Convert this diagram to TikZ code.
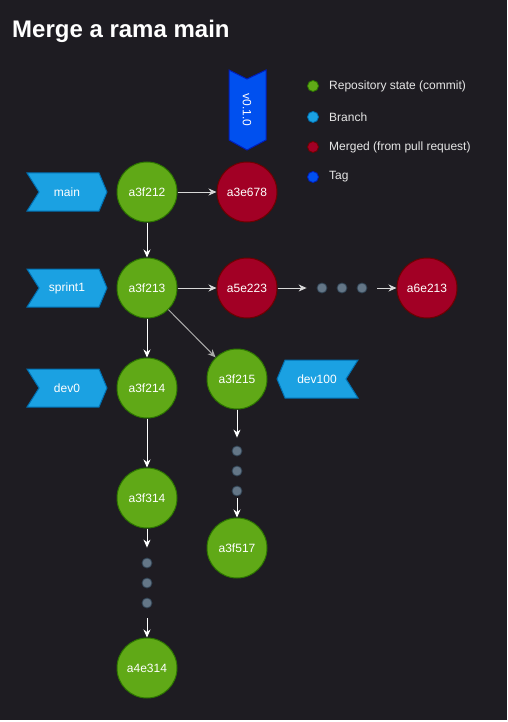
\documentclass[tikz,border=0pt]{standalone}
\usepackage{fontspec}
\setmainfont{Liberation Sans}
\usetikzlibrary{arrows.meta}
\definecolor{bgc}{HTML}{1E1C22}
\definecolor{gfill}{HTML}{60A917}
\definecolor{gdraw}{HTML}{2D7600}
\definecolor{rfill}{HTML}{A20025}
\definecolor{rdraw}{HTML}{6F0000}
\definecolor{bfill}{HTML}{1BA1E2}
\definecolor{bdraw}{HTML}{006EAF}
\definecolor{tfill}{HTML}{0050EF}
\definecolor{tdraw}{HTML}{001DBC}
\definecolor{dfill}{HTML}{647687}
\definecolor{ddraw}{HTML}{314354}
\definecolor{legtxt}{HTML}{E6E6E6}
\definecolor{harr}{HTML}{D8D8D8}
\definecolor{darr}{HTML}{A8A8A8}
\begin{document}
\begin{tikzpicture}[x=1pt,y=-1pt,
  commit/.style={circle, minimum size=60pt, inner sep=0pt, fill=gfill, draw=gdraw, line width=1pt, text=white, font=\fontsize{12}{14}\selectfont},
  merged/.style={commit, fill=rfill, draw=rdraw},
  dotn/.style={circle, minimum size=10pt, inner sep=0pt, fill=dfill, draw=ddraw, line width=0.8pt},
  lab/.style={text=white, font=\fontsize{12}{14}\selectfont, inner sep=0pt},
  branchst/.style={fill=bfill, draw=bdraw, line width=1pt, line join=miter},
  tagst/.style={fill=tfill, draw=tdraw, line width=1pt, line join=miter},
  legdot/.style={circle, minimum size=11pt, inner sep=0pt, line width=0.8pt},
  legtext/.style={anchor=west, inner sep=0pt, text=legtxt, font=\fontsize{12}{14}\selectfont},
  arr/.style={-{Stealth[length=8pt,width=7pt,inset=2.5pt]}, line width=1pt, draw=white, fill=white},
  harrow/.style={arr, draw=harr, fill=harr},
  darrow/.style={arr, draw=darr, fill=darr}]
\useasboundingbox (0,0) rectangle (508,722);
\fill[white] (0,0) rectangle (508,722);
\fill[bgc] (0,0) rectangle (507,719.5);
% title
\node[anchor=base west, inner sep=0pt, text=white, font=\fontsize{24}{28}\selectfont\bfseries] (title) at (12,38) {Merge a rama main};
% legend
\node[legdot, fill=gfill, draw=gdraw] (lg1) at (313,86) {};
\node[legtext] (lt1) at (329,86) {Repository state (commit)};
\node[legdot, fill=bfill, draw=bdraw] (lg2) at (313,117) {};
\node[legtext] (lt2) at (329,117) {Branch};
\node[legdot, fill=rfill, draw=rdraw] (lg3) at (313,147) {};
\node[legtext] (lt3) at (329,147) {Merged (from pull request)};
\node[legdot, fill=tfill, draw=tdraw] (lg4) at (313,177) {};
\node[legtext] (lt4) at (329,177) {Tag};
% tag
\filldraw[tagst] (229,70) -- (247,79) -- (266,70) -- (266,140) -- (247,150) -- (229,140) -- cycle;
\node[lab, rotate=-90] (tag) at (247,110) {v0.1.0};
% branches
\filldraw[branchst] (27,173) -- (99,173) -- (107,192) -- (99,211) -- (27,211) -- (39,192) -- cycle;
\node[lab] (bmain) at (67,192) {main};
\filldraw[branchst] (27,269) -- (99,269) -- (107,288) -- (99,307) -- (27,307) -- (39,288) -- cycle;
\node[lab] (bsprint) at (67,288) {sprint1};
\filldraw[branchst] (27,369) -- (99,369) -- (107,388) -- (99,407) -- (27,407) -- (39,388) -- cycle;
\node[lab] (bdev0) at (67,388) {dev0};
\filldraw[branchst] (277,379) -- (285,360) -- (358,360) -- (346,379) -- (358,398) -- (285,398) -- cycle;
\node[lab] (bdev100) at (317,379) {dev100};
% commits
\node[commit] (c212) at (147,192) {a3f212};
\node[commit] (c213) at (147,288) {a3f213};
\node[commit] (c214) at (147,388) {a3f214};
\node[commit] (c314) at (147,498) {a3f314};
\node[commit] (e314) at (147,668) {a4e314};
\node[commit] (c215) at (237,379) {a3f215};
\node[commit] (c517) at (237,548) {a3f517};
\node[merged] (e678) at (247,192) {a3e678};
\node[merged] (e223) at (247,288) {a5e223};
\node[merged] (e213) at (427,288) {a6e213};
% dots
\node[dotn] (h1) at (322,288) {};
\node[dotn] (h2) at (342,288) {};
\node[dotn] (h3) at (362,288) {};
\node[dotn] (l1) at (147,563) {};
\node[dotn] (l2) at (147,583) {};
\node[dotn] (l3) at (147,603) {};
\node[dotn] (r1) at (237,451) {};
\node[dotn] (r2) at (237,471) {};
\node[dotn] (r3) at (237,491) {};
% connectors
\draw[harrow] (c212) -- (e678);
\draw[arr] (c212) -- (c213);
\draw[harrow] (c213) -- (e223);
\draw[arr] (c213) -- (c214);
\draw[darrow] (c213) -- (c215);
\draw[arr] (c214) -- (c314);
\draw[harrow] (e223) -- ([xshift=-10pt]h1.west);
\draw[harrow] ([xshift=10pt]h3.east) -- (e213);
\draw[arr] (c314) -- ([yshift=10pt]l1.north);
\draw[arr] ([yshift=-10pt]l3.south) -- (e314);
\draw[arr] (c215) -- ([yshift=8pt]r1.north);
\draw[arr] ([yshift=-2pt]r3.south) -- (c517);
\end{tikzpicture}
\end{document}
